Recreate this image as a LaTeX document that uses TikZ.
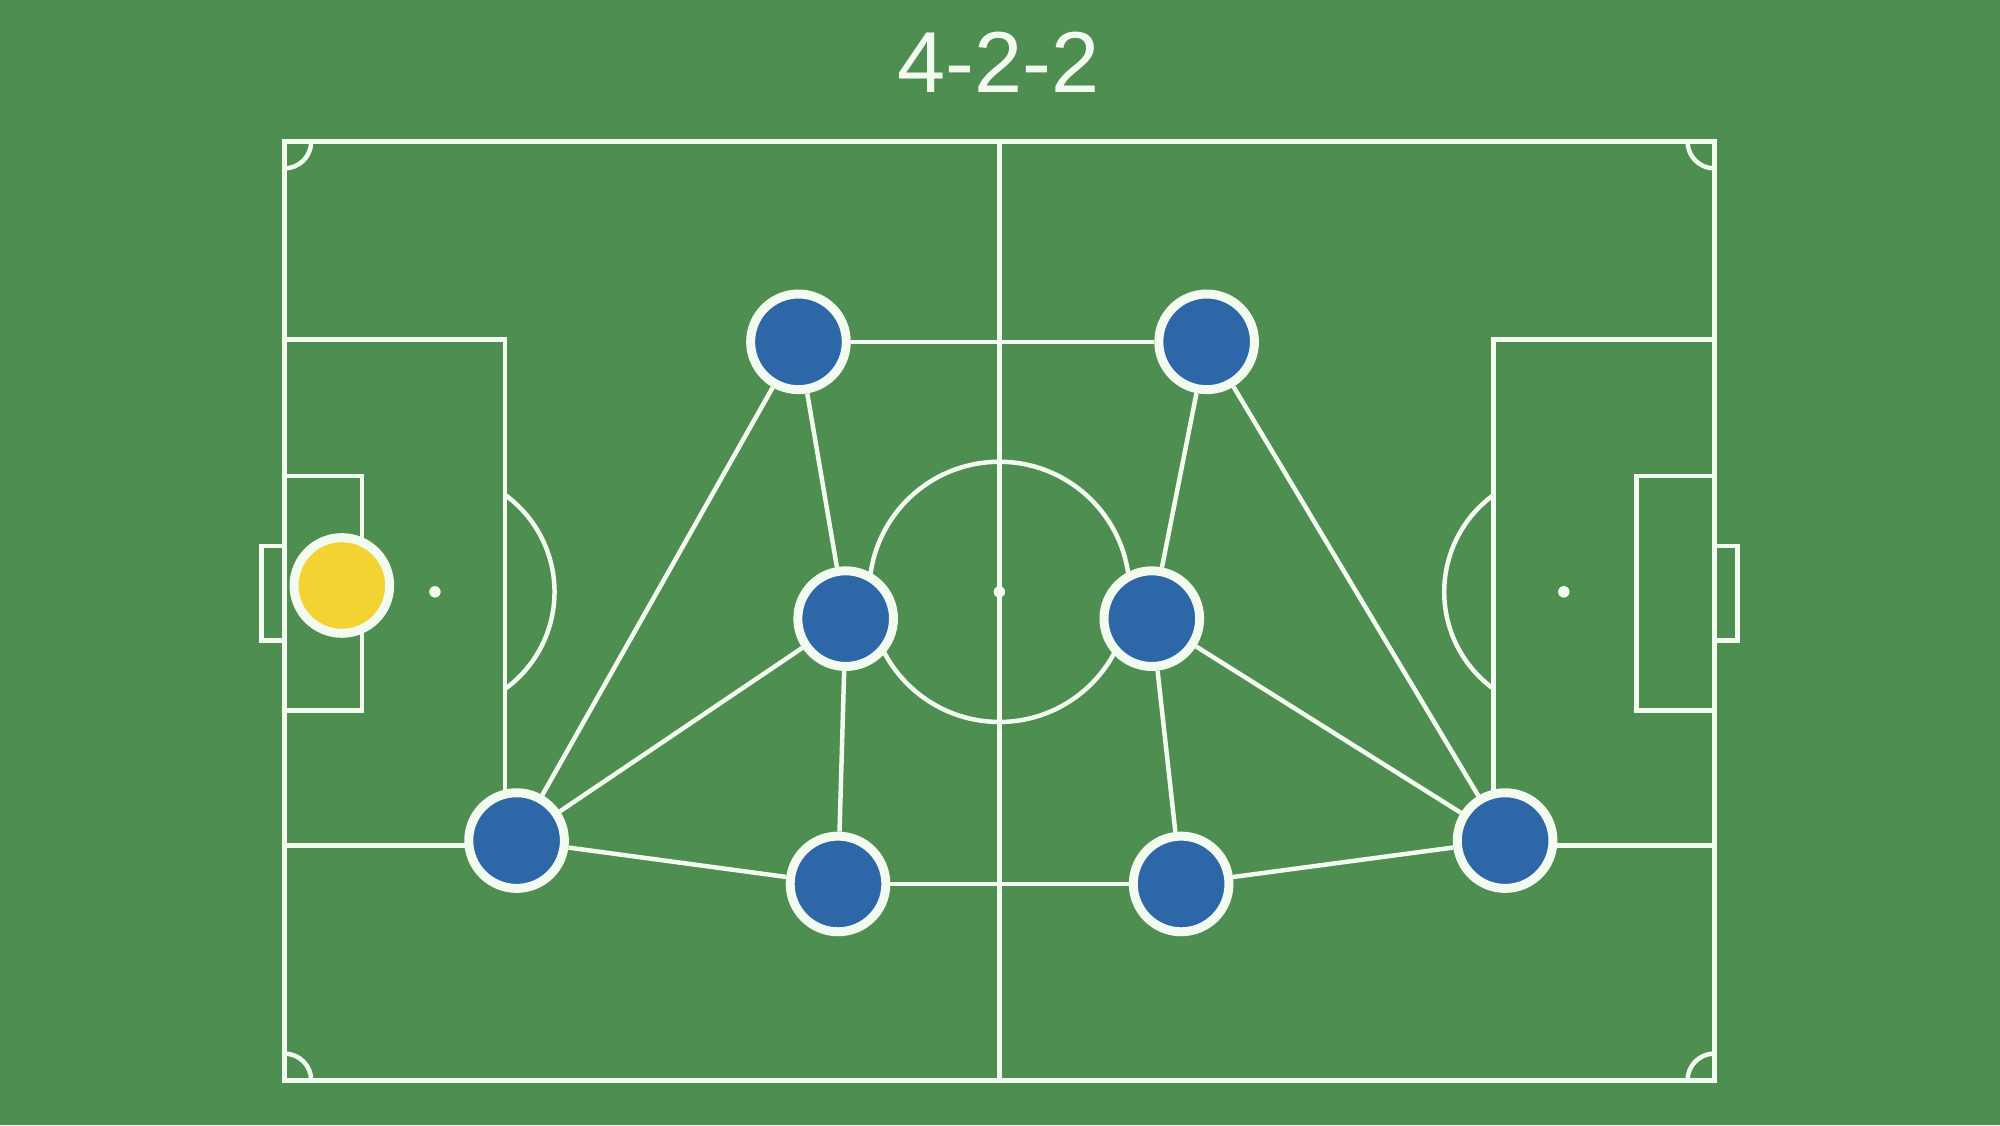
\documentclass[tikz,border=0pt]{standalone}
\usepackage{fontspec}
\setmainfont{Liberation Sans}
\usepackage{tikz}

\definecolor{grass}{RGB}{78,142,80}
\definecolor{chalk}{RGB}{243,250,240}
\definecolor{shirt}{RGB}{46,103,167}
\definecolor{keeperyellow}{RGB}{242,211,49}

\begin{document}
\begin{tikzpicture}[
    pitchline/.style={draw=chalk, line width=1pt},
    player/.style={circle, fill=shirt, draw=chalk, line width=2pt, inner sep=0pt, minimum size=0.75cm},
    keeper/.style={player, fill=keeperyellow},
    link/.style={draw=chalk, line width=1pt}
]
        \fill[grass] (0,0) rectangle (15.68,8.82);
        \useasboundingbox (0,0) rectangle (15.68,8.82);

        \node[text=chalk, font=\fontsize{19.3}{23}\selectfont] (title) at (7.83,8.33) {4-2-2};

        % pitch outline and halfway line
        \draw[pitchline] (2.23,0.35) rectangle (13.44,7.71);
        \draw[pitchline] (7.835,0.35) -- (7.835,7.71);
        \draw[pitchline] (7.835,4.18) circle (1.02);
        \fill[chalk] (7.835,4.18) circle (0.045);

        % left end
        \draw[pitchline] (2.23,6.16) rectangle (3.96,2.19);
        \draw[pitchline] (2.23,5.09) rectangle (2.84,3.25);
        \draw[pitchline] (2.23,4.54) rectangle (2.05,3.80);
        \fill[chalk] (3.41,4.18) circle (0.045);
        \draw[pitchline] (3.96,4.94) arc (54:-54:0.94);

        % right end
        \draw[pitchline] (11.71,6.16) rectangle (13.44,2.19);
        \draw[pitchline] (12.83,5.09) rectangle (13.44,3.25);
        \draw[pitchline] (13.44,4.54) rectangle (13.62,3.80);
        \fill[chalk] (12.26,4.18) circle (0.045);
        \draw[pitchline] (11.71,4.94) arc (126:234:0.94);

        % corners
        \draw[pitchline] (2.44,7.71) arc (0:-90:0.21);
        \draw[pitchline] (13.23,7.71) arc (180:270:0.21);
        \draw[pitchline] (2.44,0.35) arc (0:90:0.21);
        \draw[pitchline] (13.23,0.35) arc (180:90:0.21);

        % players
        \node[keeper] (gk) at (2.68,4.23) {};
        \node[player] (fwl) at (6.26,6.14) {};
        \node[player] (fwr) at (9.46,6.14) {};
        \node[player] (cml) at (6.63,3.97) {};
        \node[player] (cmr) at (9.03,3.97) {};
        \node[player] (lb) at (4.05,2.23) {};
        \node[player] (lcb) at (6.57,1.89) {};
        \node[player] (rcb) at (9.26,1.89) {};
        \node[player] (rb) at (11.80,2.23) {};

        % passing links
        \draw[link] (fwl) -- (fwr);
        \draw[link] (fwl) -- (lb);
        \draw[link] (fwl) -- (cml);
        \draw[link] (cml) -- (lb);
        \draw[link] (cml) -- (lcb);
        \draw[link] (lb) -- (lcb);
        \draw[link] (lcb) -- (rcb);
        \draw[link] (fwr) -- (cmr);
        \draw[link] (fwr) -- (rb);
        \draw[link] (cmr) -- (rb);
        \draw[link] (cmr) -- (rcb);
        \draw[link] (rcb) -- (rb);
    \end{tikzpicture}
\end{document}
